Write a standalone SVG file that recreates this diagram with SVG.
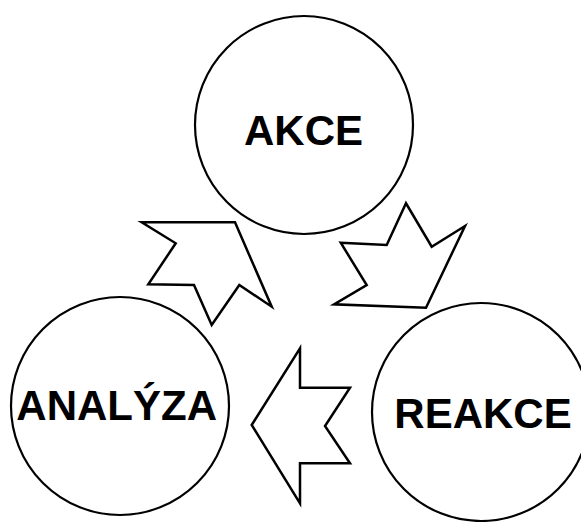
<svg xmlns="http://www.w3.org/2000/svg" width="581" height="522" viewBox="0 0 581 522">
<style>
.node circle{fill:#fff;stroke:#000;stroke-width:2.2}
.node text{font-family:"Liberation Sans",Arial,sans-serif;font-weight:bold;font-size:42px;text-anchor:middle;fill:#000}
#connectors polygon{fill:#fff;stroke:#000;stroke-width:2.5;stroke-linejoin:miter}
</style>
<rect width="581" height="522" fill="#fff"/>
<g id="connectors">
<polygon points="141.7,222.3 235,222.3 271.7,306.7 239.3,285 211.7,325 194,285 148.3,284.3 175.7,243.3"/>
<polygon points="340.7,242.7 386.7,245 406,203.3 431.7,246.7 465,226 426,307.7 334,304.3 366.7,285"/>
<polygon points="251.7,425 300,348.3 300,387.7 350,387.7 325,426 350,463.3 300,463.3 300,503.3"/>
</g>
<g id="akce" class="node">
<circle cx="304" cy="125" r="109"/>
<text x="303.5" y="145">AKCE</text>
</g>
<g id="analyza" class="node">
<circle cx="120" cy="406" r="109"/>
<text x="116.7" y="420">ANALÝZA</text>
</g>
<g id="reakce" class="node">
<circle cx="481" cy="412" r="109"/>
<text x="483" y="428">REAKCE</text>
</g>
</svg>
